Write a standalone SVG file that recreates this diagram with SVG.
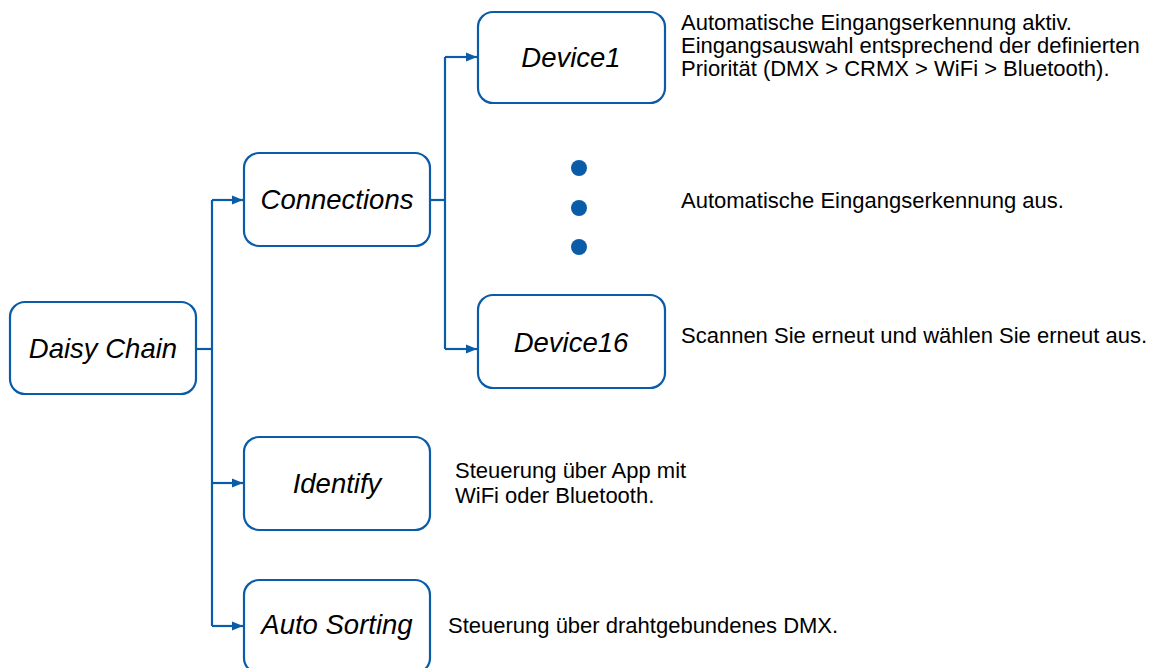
<svg xmlns="http://www.w3.org/2000/svg" width="1159" height="668" viewBox="0 0 1159 668">
<style>
.box{fill:#fff;stroke:#0b5ca8;stroke-width:2.2}
.lbl{font-family:"Liberation Sans",Arial,sans-serif;font-style:italic;font-size:27.5px;fill:#000;text-anchor:middle}
.desc{font-family:"Liberation Sans",Arial,sans-serif;font-size:22px;fill:#000}
.ln{fill:none;stroke:#0b5ca8;stroke-width:2.2}
.dot{fill:#0b5ca8}
</style>
<defs>
<marker id="arr" viewBox="0 0 11 10" refX="11" refY="5" markerWidth="11" markerHeight="10" markerUnits="userSpaceOnUse" orient="auto">
<path d="M0,0.5 L11,5 L0,9.5 Z" fill="#0b5ca8"/>
</marker>
</defs>
<g id="connectors">
<path class="ln" d="M196,349 H212"/>
<path class="ln" d="M212,200 V626"/>
<path class="ln" marker-end="url(#arr)" d="M212,200 H243"/>
<path class="ln" marker-end="url(#arr)" d="M212,483 H243"/>
<path class="ln" marker-end="url(#arr)" d="M212,626 H243"/>
<path class="ln" d="M430,200 H445"/>
<path class="ln" d="M445,57 V349"/>
<path class="ln" marker-end="url(#arr)" d="M445,57 H477"/>
<path class="ln" marker-end="url(#arr)" d="M445,349 H477"/>
</g>
<g id="daisy-chain">
<rect class="box" x="10" y="302" width="186" height="92" rx="15"/>
<text class="lbl" x="103" y="358">Daisy Chain</text>
</g>
<g id="connections">
<rect class="box" x="244" y="153" width="186" height="93" rx="15"/>
<text class="lbl" x="337" y="209">Connections</text>
</g>
<g id="device1">
<rect class="box" x="478" y="12" width="187" height="91" rx="15"/>
<text class="lbl" x="571" y="67">Device1</text>
</g>
<g id="device16">
<rect class="box" x="478" y="295" width="187" height="93" rx="15"/>
<text class="lbl" x="571" y="352">Device16</text>
</g>
<g id="identify">
<rect class="box" x="244" y="437" width="186" height="93" rx="15"/>
<text class="lbl" x="337" y="493">Identify</text>
</g>
<g id="auto-sorting">
<rect class="box" x="244" y="580" width="186" height="93" rx="15"/>
<text class="lbl" x="337" y="634">Auto Sorting</text>
</g>
<g id="ellipsis">
<circle class="dot" cx="579" cy="168" r="8"/>
<circle class="dot" cx="579" cy="208" r="8"/>
<circle class="dot" cx="579" cy="247" r="8"/>
</g>
<g id="descriptions">
<text class="desc" x="681" y="30">Automatische Eingangserkennung aktiv.</text>
<text class="desc" x="681" y="53">Eingangsauswahl entsprechend der definierten</text>
<text class="desc" x="681" y="76">Priorität (DMX &gt; CRMX &gt; WiFi &gt; Bluetooth).</text>
<text class="desc" x="681" y="208">Automatische Eingangserkennung aus.</text>
<text class="desc" x="681" y="343">Scannen Sie erneut und wählen Sie erneut aus.</text>
<text class="desc" x="455" y="478">Steuerung über App mit</text>
<text class="desc" x="455" y="503">WiFi oder Bluetooth.</text>
<text class="desc" x="448" y="633">Steuerung über drahtgebundenes DMX.</text>
</g>
</svg>
